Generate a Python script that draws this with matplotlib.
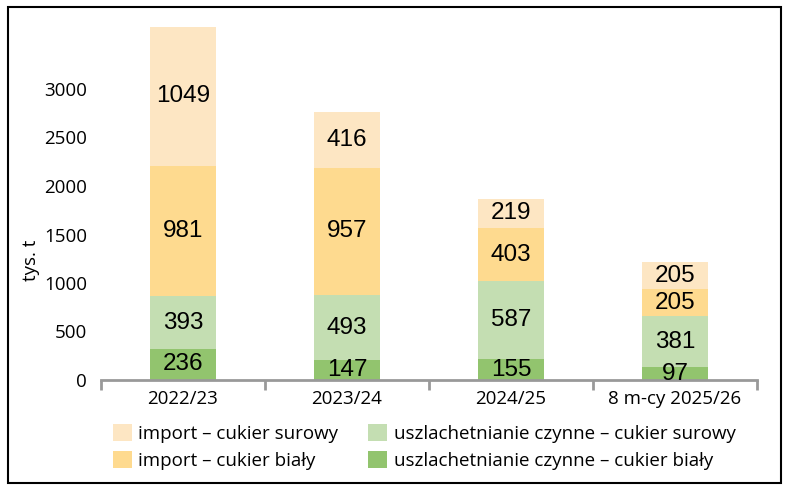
import numpy as np
import matplotlib
matplotlib.use('Agg')
import matplotlib.pyplot as plt
from matplotlib.patches import Rectangle

# --- data (tys. t) ---
seasons = ["2022/23", "2023/24", "2024/25", "8 m-cy 2025/26"]
uszl_bialy = [236, 147, 155, 97]
uszl_surowy = [393, 493, 587, 381]
import_bialy = [981, 957, 403, 205]
import_surowy = [1049, 416, 219, 205]

series = [
    ("uszlachetnianie czynne – cukier biały", uszl_bialy, "#92C46E"),
    ("uszlachetnianie czynne – cukier surowy", uszl_surowy, "#C4DEB2"),
    ("import – cukier biały", import_bialy, "#FEDA8F"),
    ("import – cukier surowy", import_surowy, "#FDE6C3"),
]

# the y axis of the original is drawn on a stretched scale
axis_scale = 1.37
yticks = np.arange(0, 3001, 500)

txt_font = "Open Sans"
fs = 13.5

fig = plt.figure(figsize=(7.87, 4.87), dpi=100)
ax = fig.add_axes([101/787, 1 - 380/487, (757 - 101)/787, 360/487])

x = np.arange(len(seasons))
bottom = np.zeros(len(seasons))
handles = {}
for name, vals, col in series:
    vals = np.array(vals, dtype=float)
    b = ax.bar(x, vals, 0.4, bottom=bottom, color=col, edgecolor='none', label=name)
    handles[name] = b
    for xi, v, bt in zip(x, vals, bottom):
        ax.text(xi, bt + v / 2, f"{int(v)}", ha='center', va='center',
                fontsize=17.5, family="Liberation Sans", color='black')
    bottom += vals

ax.set_xlim(-0.5, 3.5)
ax.set_ylim(0, 360 * 500 / 48.5 / axis_scale)
ax.set_yticks(yticks / axis_scale)
ax.set_yticklabels([str(t) for t in yticks], family=txt_font, fontsize=fs)
ax.tick_params(axis='y', length=0, pad=10)
ax.set_xticks(x)
ax.set_xticklabels(seasons, family=txt_font, fontsize=fs)
ax.tick_params(axis='x', which='major', length=0, pad=7)
ax.set_xticks(np.arange(-0.5, 4, 1), minor=True)
ax.tick_params(axis='x', which='minor', length=7, width=2, color='#999999')

for s in ['top', 'right', 'left']:
    ax.spines[s].set_visible(False)
ax.spines['bottom'].set_color('#999999')
ax.spines['bottom'].set_linewidth(2)

ax.set_ylabel("tys. t", family=txt_font, fontsize=fs)
ax.yaxis.set_label_coords((40 - 101) / 656, (380 - 260) / 360)

order = ["import – cukier surowy", "import – cukier biały",
         "uszlachetnianie czynne – cukier surowy", "uszlachetnianie czynne – cukier biały"]
fig.legend([handles[n] for n in order], order, ncol=2, frameon=False,
           loc='center', bbox_to_anchor=(0.539, 1 - 447/487),
           prop={'family': txt_font, 'size': fs},
           handlelength=1.0, handleheight=1.0, handletextpad=0.35,
           columnspacing=1.6, labelspacing=0.45)

fig.patches.append(Rectangle((8/787, 4/487), (781 - 8)/787, (480 - 4)/487,
                             transform=fig.transFigure, fill=False,
                             edgecolor='black', linewidth=1.5))

fig.savefig('out.png', dpi=100)
